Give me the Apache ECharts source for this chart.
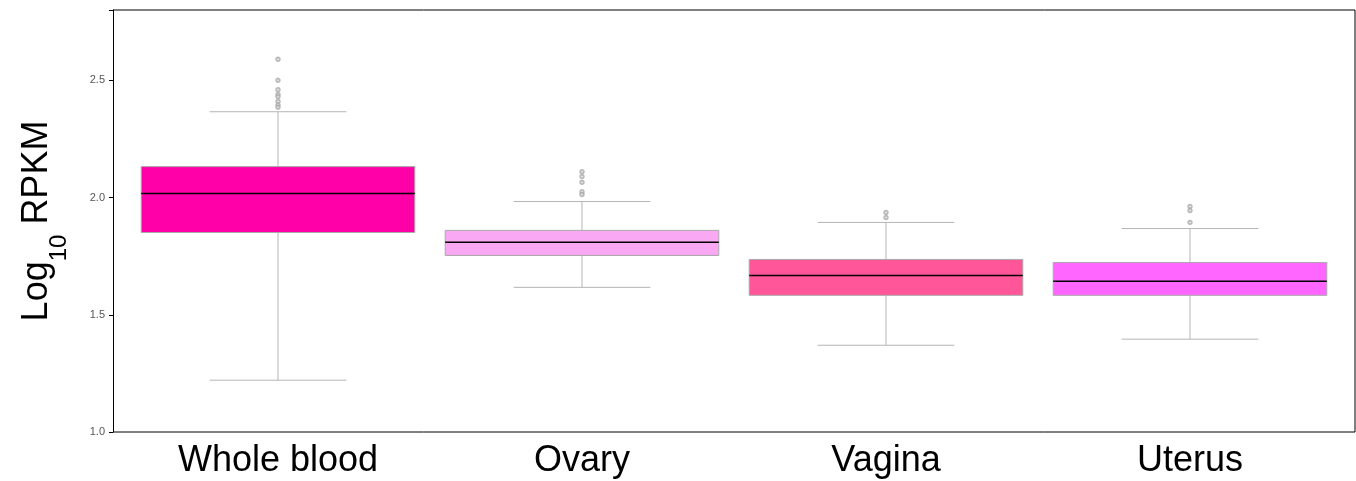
<!DOCTYPE html>
<html><head><meta charset="utf-8">
<script src="https://cdn.jsdelivr.net/npm/echarts@6/dist/echarts.min.js"></script>
<style>html,body{margin:0;padding:0;background:#fff}#chart{width:1356px;height:481px}</style>
</head><body><div id="chart"></div>
<script>
var categories = ["Whole blood", "Ovary", "Vagina", "Uterus"];
// [low, Q1, median, Q3, high]
var boxValues = [
	[1.221, 1.851, 2.017, 2.132, 2.366],
	[1.617, 1.753, 1.809, 1.860, 1.983],
	[1.370, 1.583, 1.668, 1.736, 1.894],
	[1.396, 1.583, 1.643, 1.723, 1.868]
];
var boxColors = ["#FF00A8", "#F9A8F4", "#FF5599", "#FF66FF"];
var outliers = [
	[0, 2.59], [0, 2.50], [0, 2.46], [0, 2.44], [0, 2.43], [0, 2.41], [0, 2.395], [0, 2.385],
	[1, 2.11], [1, 2.09], [1, 2.065], [1, 2.025], [1, 2.013],
	[2, 1.936], [2, 1.915],
	[3, 1.962], [3, 1.945], [3, 1.894]
];
var yTicks = [1.0, 1.5, 2.0, 2.5];

var myChart = echarts.init(document.getElementById("chart"));
var option = {
	animation: false,
	grid: { left: 126, right: 14, top: 10, bottom: 49 },
	xAxis: {
		type: "category",
		data: categories,
		axisLine: { show: false },
		axisTick: { show: false },
		axisLabel: { color: "#000", fontSize: 36, fontFamily: "Liberation Sans", margin: 11 },
		splitLine: { show: false }
	},
	yAxis: [{
		type: "value",
		min: 1.0, max: 2.8, interval: 0.5,
		offset: 13,
		name: "{a|Log}{b|10}{a| RPKM}",
		nameLocation: "middle",
		nameGap: 58,
		nameRotate: 90,
		nameTextStyle: {
			rich: {
				a: { fontSize: 36, color: "#000", fontFamily: "Liberation Sans" },
				b: { fontSize: 24, color: "#000", fontFamily: "Liberation Sans", verticalAlign: "bottom", padding: [0, 0, -16, 0] }
			}
		},
		axisLine: { show: true, lineStyle: { color: "#000" } },
		axisTick: { show: true, length: 4, lineStyle: { color: "#000" } },
		axisLabel: { color: "#555", fontSize: 11, fontFamily: "Liberation Sans",
			formatter: function (v) { return yTicks.indexOf(v) >= 0 ? v.toFixed(1) : ""; } },
		splitLine: { show: false }
	}],
	series: [
		{
			type: "custom",
			data: boxValues.map(function (v, i) { return [i].concat(v); }),
			renderItem: function (params, api) {
				var i = api.value(0);
				var lo = api.coord([i, api.value(1)]), q1 = api.coord([i, api.value(2)]),
					md = api.coord([i, api.value(3)]), q3 = api.coord([i, api.value(4)]),
					hi = api.coord([i, api.value(5)]);
				var x = lo[0];
				var w = api.size([1, 0])[0] * 0.9;
				var cw = w / 2;
				var grey = { stroke: "#b5b5b5", lineWidth: 1 };
				return { type: "group", children: [
					{ type: "line", shape: { x1: x, y1: lo[1], x2: x, y2: q1[1] }, style: grey },
					{ type: "line", shape: { x1: x, y1: q3[1], x2: x, y2: hi[1] }, style: grey },
					{ type: "line", shape: { x1: x - cw / 2, y1: lo[1], x2: x + cw / 2, y2: lo[1] }, style: grey },
					{ type: "line", shape: { x1: x - cw / 2, y1: hi[1], x2: x + cw / 2, y2: hi[1] }, style: grey },
					{ type: "rect", shape: { x: x - w / 2, y: q3[1], width: w, height: q1[1] - q3[1] },
						style: { fill: boxColors[i], stroke: "#aaaaaa", lineWidth: 1 } },
					{ type: "line", shape: { x1: x - w / 2, y1: md[1], x2: x + w / 2, y2: md[1] },
						style: { stroke: "#000", lineWidth: 1.5 } }
				] };
			}
		},
		{
			type: "scatter",
			data: outliers,
			symbol: "emptyCircle",
			symbolSize: 3.5,
			itemStyle: { color: "#aaa", borderColor: "#aaa" }
		}
	],
	graphic: [
		{ type: "line", shape: { x1: 113, y1: 10, x2: 1355, y2: 10 }, style: { stroke: "#000", lineWidth: 1 } },
		{ type: "line", shape: { x1: 1355, y1: 10, x2: 1355, y2: 432 }, style: { stroke: "#000", lineWidth: 1 } },
		{ type: "line", shape: { x1: 113, y1: 432, x2: 1355, y2: 432 }, style: { stroke: "#000", lineWidth: 1 } }
	]
};
myChart.setOption(option);
</script></body></html>
